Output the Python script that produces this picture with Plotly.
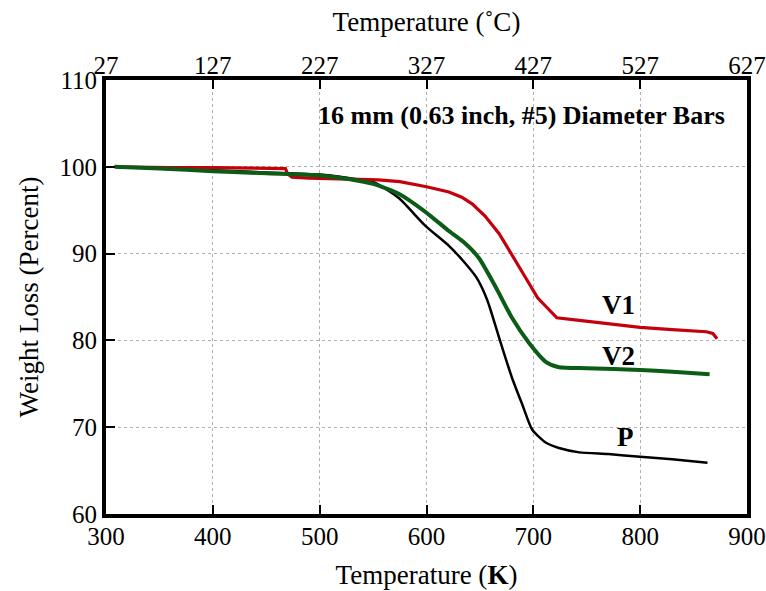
import plotly.graph_objects as go

# Thermogravimetric weight-loss curves, temperature in kelvin
v1_temp = [310, 330, 360, 400, 440, 468, 470, 474, 490, 510, 530, 555, 575, 600, 621, 633,
           643, 655, 668, 677, 690, 704, 722, 743, 770, 800, 830, 862, 868, 872]
v1_wt = [100.0, 99.95, 99.9, 99.9, 99.85, 99.8, 99.2, 98.8, 98.7, 98.65, 98.6, 98.5, 98.3,
         97.7, 97.1, 96.5, 95.7, 94.3, 92.3, 90.5, 87.8, 84.9, 82.6, 82.3, 81.9, 81.5, 81.25,
         81.0, 80.8, 80.2]

v2_temp = [308, 350, 400, 450, 500, 527, 551, 574, 598, 621, 635, 649, 665, 680, 696, 712,
           724, 750, 800, 830, 865]
v2_wt = [100.0, 99.8, 99.5, 99.25, 99.0, 98.6, 98.0, 96.9, 94.9, 92.6, 91.3, 89.5, 86.1,
         82.6, 79.7, 77.5, 76.9, 76.8, 76.6, 76.4, 76.1]

p_temp = [308, 350, 400, 450, 500, 527, 551, 574, 599, 621, 634, 647, 657, 668, 680, 690,
          699, 712, 724, 743, 770, 800, 830, 863]
p_wt = [100.0, 99.8, 99.6, 99.35, 99.1, 98.7, 98.2, 96.4, 93.2, 90.9, 89.2, 87.2, 84.6,
        80.3, 75.7, 72.5, 69.7, 68.2, 67.6, 67.1, 66.9, 66.6, 66.3, 65.9]

k_ticks = [300, 400, 500, 600, 700, 800, 900]
c_ticks = [27, 127, 227, 327, 427, 527, 627]
y_ticks = [60, 70, 80, 90, 100, 110]

# Curve labels: (text, temperature, weight)
labels = [("V1", 780, 84.1), ("V2", 780, 78.2), ("P", 786, 68.9)]

FONT = "Liberation Serif"
RED = "#c4000c"
GREEN = "#0a5c16"
TICK_SIZE = 25
TITLE_SIZE = 27

fig = go.Figure()
fig.add_trace(go.Scatter(x=p_temp, y=p_wt, mode="lines",
                         line=dict(color="black", width=2.5, shape="spline", smoothing=0.6),
                         showlegend=False))
fig.add_trace(go.Scatter(x=v1_temp, y=v1_wt, mode="lines", line=dict(color=RED, width=3.2),
                         showlegend=False))
fig.add_trace(go.Scatter(x=v2_temp, y=v2_wt, mode="lines",
                         line=dict(color=GREEN, width=4, shape="spline", smoothing=0.6),
                         showlegend=False))
# carrier for the Celsius axis along the top
fig.add_trace(go.Scatter(x=[c_ticks[0], c_ticks[-1]], y=[None, None], xaxis="x2",
                         mode="markers", marker=dict(opacity=0), showlegend=False,
                         hoverinfo="skip"))

for text, tx, wy in labels:
    fig.add_annotation(x=tx, y=wy, text=f"<b>{text}</b>", showarrow=False,
                       font=dict(family=FONT, size=27, color="black"))

fig.add_annotation(x=1.0, xref="paper", xanchor="right", xshift=-20,
                   y=105.9, yref="y", text="<b>16 mm (0.63 inch, #5) Diameter Bars</b>",
                   showarrow=False, font=dict(family=FONT, size=26, color="black"))

axis_common = dict(
    showline=True, linewidth=4, linecolor="black", mirror=True,
    ticks="inside", ticklen=9, tickwidth=1.5, tickcolor="black",
    showgrid=True, gridcolor="#b0b0b0", gridwidth=1, griddash="dot",
    zeroline=False, automargin=False,
    tickfont=dict(family=FONT, size=TICK_SIZE, color="black"),
)

fig.update_layout(
    width=766, height=591,
    margin=dict(l=106, r=19, t=80, b=77),
    plot_bgcolor="white", paper_bgcolor="white",
    font=dict(family=FONT, color="black"),
    xaxis=dict(axis_common, range=[300, 900], tickvals=k_ticks, ticklabelstandoff=-3,
               title=dict(text="Temperature (<b>K</b>)",
                          font=dict(family=FONT, size=TITLE_SIZE), standoff=17)),
    xaxis2=dict(range=[27, 627], tickvals=c_ticks, overlaying="x", side="top",
                showline=False, showgrid=False, ticks="inside", ticklen=9, tickwidth=1.5,
                tickcolor="black", zeroline=False, automargin=False,
                tickfont=dict(family=FONT, size=TICK_SIZE, color="black"),
                title=dict(text="Temperature (˚C)", font=dict(family=FONT, size=TITLE_SIZE),
                           standoff=12)),
    yaxis=dict(axis_common, range=[60, 110], tickvals=y_ticks,
               title=dict(text="Weight Loss (Percent)",
                          font=dict(family=FONT, size=TITLE_SIZE), standoff=14)),
)

fig.write_html("out.html")
